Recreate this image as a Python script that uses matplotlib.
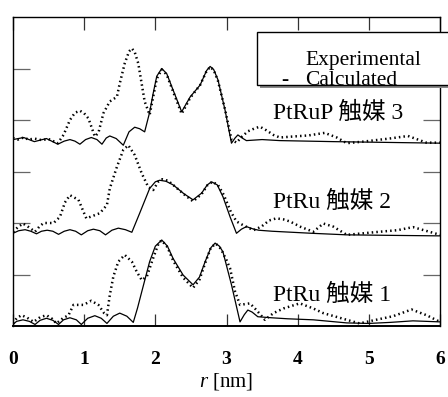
import matplotlib
matplotlib.use("Agg")
import matplotlib.pyplot as plt
from matplotlib.patches import Rectangle

plt.rcParams['font.family'] = ['Liberation Serif', 'Noto Sans CJK JP', 'DejaVu Sans']
plt.rcParams['mathtext.fontset'] = 'custom'
plt.rcParams['mathtext.it'] = 'Liberation Serif:italic'
plt.rcParams['mathtext.rm'] = 'Liberation Serif'

# ---------------- data ----------------
calc1_x = [0.00, 0.05, 0.14, 0.23, 0.31, 0.38, 0.47, 0.56, 0.64, 0.71, 0.80, 0.89, 0.96, 1.05, 1.15, 1.24,
           1.32, 1.41, 1.50, 1.60, 1.69, 1.75, 1.81, 1.92, 2.00, 2.09, 2.17, 2.25, 2.39, 2.53, 2.62, 2.70,
           2.78, 2.84, 2.90, 2.95, 3.07, 3.19, 3.25, 3.30, 3.36, 3.44, 3.63, 3.86, 4.22, 4.69, 5.00, 5.30,
           5.62, 6.00]
calc1_y = [0.03, 0.09, 0.12, 0.09, 0.03, 0.11, 0.15, 0.11, 0.03, 0.12, 0.16, 0.12, 0.03, 0.15, 0.20, 0.15,
           0.05, 0.19, 0.25, 0.19, 0.07, 0.35, 0.67, 1.25, 1.55, 1.67, 1.55, 1.31, 0.99, 0.80, 0.95, 1.25,
           1.52, 1.61, 1.55, 1.44, 0.80, 0.08, 0.22, 0.31, 0.27, 0.18, 0.16, 0.14, 0.12, 0.06, 0.05, 0.07,
           0.10, 0.08]

exp1_x = [0.00, 0.05, 0.12, 0.20, 0.29, 0.38, 0.47, 0.55, 0.61, 0.70, 0.78, 0.85, 0.99, 1.10, 1.20, 1.28,
          1.32, 1.36, 1.41, 1.48, 1.57, 1.67, 1.74, 1.81, 1.88, 1.97, 2.05, 2.09, 2.17, 2.25, 2.39, 2.53,
          2.62, 2.70, 2.78, 2.85, 2.92, 3.00, 3.05, 3.12, 3.19, 3.33, 3.42, 3.54, 3.66, 3.80, 4.03, 4.22,
          4.36, 4.69, 4.87, 5.10, 5.34, 5.60, 5.81, 6.00]
exp1_y = [0.05, 0.15, 0.21, 0.16, 0.08, 0.17, 0.21, 0.14, 0.05, 0.15, 0.21, 0.41, 0.41, 0.49, 0.41, 0.25,
          0.21, 0.60, 0.96, 1.25, 1.38, 1.25, 1.05, 0.89, 0.96, 1.32, 1.62, 1.66, 1.53, 1.27, 0.94, 0.74,
          0.90, 1.22, 1.52, 1.60, 1.50, 1.28, 1.12, 0.67, 0.41, 0.44, 0.31, 0.12, 0.25, 0.34, 0.44, 0.34,
          0.25, 0.12, 0.05, 0.12, 0.19, 0.32, 0.21, 0.08]

calc2_x = [0.00, 0.08, 0.17, 0.25, 0.33, 0.40, 0.48, 0.56, 0.64, 0.72, 0.80, 0.88, 0.96, 1.05, 1.13, 1.22,
           1.30, 1.39, 1.48, 1.58, 1.67, 1.78, 1.92, 2.00, 2.06, 2.15, 2.25, 2.40, 2.53, 2.65, 2.73, 2.79,
           2.87, 2.95, 3.05, 3.14, 3.21, 3.28, 3.36, 3.45, 3.64, 4.20, 4.69, 5.30, 6.00]
calc2_y = [1.80, 1.85, 1.87, 1.84, 1.79, 1.84, 1.86, 1.84, 1.78, 1.84, 1.87, 1.84, 1.77, 1.85, 1.88, 1.85,
           1.77, 1.86, 1.90, 1.87, 1.82, 2.19, 2.67, 2.80, 2.83, 2.81, 2.74, 2.57, 2.45, 2.58, 2.74, 2.80,
           2.74, 2.51, 2.12, 1.80, 1.88, 1.93, 1.89, 1.86, 1.84, 1.80, 1.77, 1.76, 1.75]

exp2_x = [0.00, 0.07, 0.14, 0.22, 0.31, 0.37, 0.43, 0.57, 0.66, 0.73, 0.80, 0.92, 1.03, 1.22, 1.32, 1.36,
          1.46, 1.55, 1.62, 1.71, 1.81, 1.90, 1.97, 2.04, 2.10, 2.18, 2.25, 2.40, 2.53, 2.65, 2.73, 2.80,
          2.88, 2.96, 3.06, 3.14, 3.23, 3.38, 3.49, 3.60, 3.70, 3.80, 3.89, 4.05, 4.22, 4.36, 4.50, 4.69,
          4.92, 5.15, 5.40, 5.62, 5.85, 6.00]
exp2_y = [1.83, 1.92, 1.99, 1.92, 1.83, 1.93, 2.00, 2.00, 2.12, 2.40, 2.54, 2.45, 2.09, 2.19, 2.35, 2.67,
          3.09, 3.42, 3.51, 3.32, 2.96, 2.70, 2.64, 2.80, 2.85, 2.82, 2.74, 2.56, 2.42, 2.56, 2.73, 2.80,
          2.74, 2.55, 2.22, 2.03, 1.96, 1.86, 1.93, 2.05, 2.09, 2.07, 2.03, 1.92, 1.83, 1.99, 1.93, 1.77,
          1.80, 1.83, 1.86, 1.92, 1.83, 1.77]

calc3_x = [0.00, 0.15, 0.30, 0.47, 0.63, 0.72, 0.80, 0.87, 0.94, 1.02, 1.10, 1.18, 1.25, 1.31, 1.36, 1.45,
           1.55, 1.63, 1.71, 1.78, 1.85, 1.92, 1.97, 2.02, 2.09, 2.16, 2.25, 2.37, 2.49, 2.63, 2.72, 2.77,
           2.82, 2.88, 2.98, 3.07, 3.12, 3.16, 3.22, 3.28, 3.50, 3.75, 4.50, 5.00, 6.00]
calc3_y = [3.62, 3.66, 3.58, 3.64, 3.53, 3.59, 3.62, 3.59, 3.53, 3.62, 3.66, 3.62, 3.53, 3.65, 3.69, 3.64,
           3.51, 3.77, 3.86, 3.83, 3.77, 4.15, 4.52, 4.85, 5.00, 4.90, 4.58, 4.16, 4.45, 4.68, 4.96, 5.04,
           4.98, 4.78, 4.19, 3.55, 3.65, 3.71, 3.65, 3.60, 3.62, 3.60, 3.58, 3.57, 3.55]

exp3_x = [0.00, 0.07, 0.15, 0.22, 0.30, 0.40, 0.50, 0.63, 0.71, 0.80, 0.87, 0.94, 1.00, 1.06, 1.15, 1.20,
          1.27, 1.36, 1.46, 1.50, 1.57, 1.63, 1.67, 1.71, 1.76, 1.85, 1.92, 1.97, 2.02, 2.09, 2.16, 2.25,
          2.37, 2.49, 2.63, 2.72, 2.77, 2.82, 2.88, 2.98, 3.07, 3.14, 3.22, 3.30, 3.40, 3.47, 3.56, 3.66,
          3.75, 3.94, 4.15, 4.38, 4.55, 4.69, 4.92, 5.29, 5.55, 5.81, 6.00]
exp3_y = [3.65, 3.62, 3.66, 3.62, 3.64, 3.61, 3.63, 3.55, 3.71, 4.00, 4.14, 4.18, 4.13, 4.03, 3.68, 3.75,
          4.13, 4.36, 4.45, 4.71, 5.10, 5.33, 5.39, 5.32, 5.10, 4.36, 4.10, 4.45, 4.80, 4.98, 4.88, 4.55,
          4.12, 4.43, 4.68, 4.95, 5.03, 4.97, 4.76, 4.20, 3.62, 3.56, 3.68, 3.78, 3.84, 3.87, 3.80, 3.71,
          3.66, 3.68, 3.70, 3.75, 3.66, 3.55, 3.58, 3.64, 3.69, 3.56, 3.56]

sample_labels = ["PtRu 触媒 1", "PtRu 触媒 2", "PtRuP 触媒 3"]
sample_label_pos = [(3.65, 0.60), (3.65, 2.41), (3.65, 4.14)]
xtick_vals = [0, 1, 2, 3, 4, 5, 6]
legend_labels = ["Experimental", "Calculated"]

# ---------------- figure ----------------
fig = plt.figure(figsize=(4.48, 3.97), dpi=100)
ax = fig.add_axes([13 / 448, (397 - 326) / 397, 427 / 448, 309 / 397])

dot = dict(color='black', linewidth=1.8, linestyle=(0, (0.6, 1.25)), dash_capstyle='butt')
sol = dict(color='black', linewidth=0.9)

for cx, cy, ex, ey in [(calc1_x, calc1_y, exp1_x, exp1_y),
                       (calc2_x, calc2_y, exp2_x, exp2_y),
                       (calc3_x, calc3_y, exp3_x, exp3_y)]:
    ax.plot(cx, cy, **sol)
    ax.plot(ex, ey, **dot)

for lab, (lx, ly) in zip(sample_labels, sample_label_pos):
    ax.text(lx, ly, lab, fontsize=17, va='center', ha='left',
            family=['Liberation Serif', 'Noto Sans CJK JP'])

ax.set_xlim(0, 6)
ax.set_ylim(0, 6)
ax.set_xticks(xtick_vals)
ax.set_xticklabels([str(v) for v in xtick_vals], fontsize=14, fontweight='bold')
ax.set_yticks([1, 2, 3, 4, 5])
ax.set_yticklabels([])
ax.tick_params(axis='x', direction='in', length=9, width=0.9, top=True, pad=18, color='#333333')
ax.tick_params(axis='y', direction='in', length=12, width=0.9, right=True, color='#666666')
for s in ax.spines.values():
    s.set_linewidth(1.0)
ax.spines['bottom'].set_linewidth(1.4)
ax.set_xlabel(r'$\mathit{r}$ [nm]', fontsize=15, labelpad=2)

# legend-like box (extends past figure edge)
W, H = 448.0, 397.0
shadow = Rectangle((260 / W, 1 - 88 / H), 200 / W, 53 / H, transform=fig.transFigure,
                   facecolor='#888888', edgecolor='none', zorder=10)
box = Rectangle((257 / W, 1 - 85 / H), 200 / W, 53 / H, transform=fig.transFigure,
                facecolor='white', edgecolor='black', linewidth=1.0, zorder=11)
fig.add_artist(shadow)
fig.add_artist(box)
t1 = fig.text(305 / W, 1 - 60 / H, legend_labels[0], fontsize=15.5, va='center', ha='left', zorder=12)
t2 = fig.text(305 / W, 1 - 85 / H, legend_labels[1], fontsize=15.5, va='baseline', ha='left', zorder=12)
t3 = fig.text(281 / W, 1 - 85 / H, "-", fontsize=15.5, va='baseline', ha='left', zorder=12)
for t in (t1, t2, t3):
    t.set_clip_path(box)

fig.savefig('out.png', dpi=100)
